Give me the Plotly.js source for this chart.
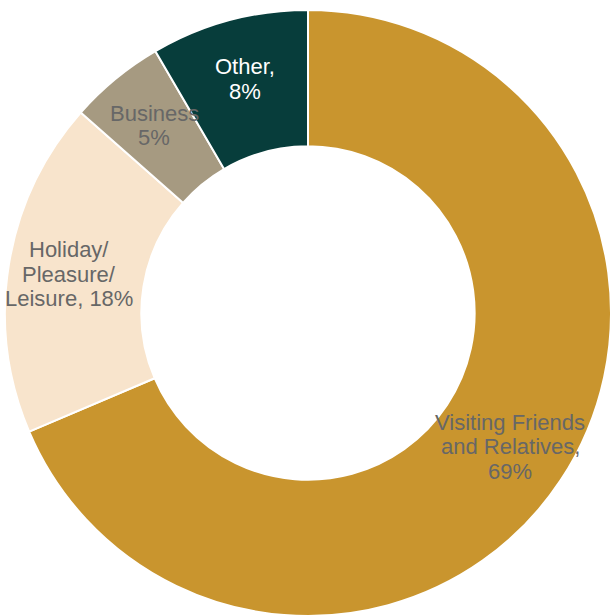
<!DOCTYPE html>
<html>
<head>
<meta charset="utf-8">
<script src="https://cdn.plot.ly/plotly-3.0.1.min.js"></script>
<style>html,body{margin:0;padding:0;background:#fff;}#chart{width:611px;height:616px;}</style>
</head>
<body>
<div id="chart"></div>
<script>
const categories = ["Visiting Friends and Relatives", "Holiday/Pleasure/Leisure", "Business", "Other"];
const values = [68.6, 17.9, 5.1, 8.4];
const labelTexts = ["Visiting Friends<br>and Relatives,<br>69%", "Holiday/<br>Pleasure/<br>Leisure, 18%", "Business<br>5%", "Other,<br>8%"];
const colors = ["#C9952E", "#F8E4CC", "#A69A81", "#073D3B"];
const textColors = ["#676767", "#676767", "#676767", "#FFFFFF"];

const W = 611, H = 616;
const margin = {l: 5, r: 0, t: 10, b: 0};
const hole = 0.55;
const fontSize = 22;
const lineGap = 24.5;

const trace = {
  type: "pie",
  labels: categories,
  values: values,
  textinfo: "none",
  textposition: "none",
  hole: hole,
  sort: false,
  direction: "clockwise",
  rotation: 0,
  marker: {colors: colors, line: {color: "#FFFFFF", width: 2}},
  showlegend: false,
  hoverinfo: "label+percent"
};

// label positions derived from slice mid-angles
const plotW = W - margin.l - margin.r, plotH = H - margin.t - margin.b;
const R = Math.min(plotW, plotH) / 2;
const total = values.reduce((a, b) => a + b, 0);
const annotations = [];
let cum = 0;
values.forEach((v, i) => {
  const mid = (cum + v / 2) / total * 2 * Math.PI;
  cum += v;
  const r = R * 0.8;
  const cx = 0.5 + r * Math.sin(mid) / plotW;
  const cy = 0.5 + r * Math.cos(mid) / plotH;
  const lines = labelTexts[i].split("<br>");
  const n = lines.length;
  lines.forEach((ln, k) => {
    annotations.push({
      xref: "paper", yref: "paper",
      x: cx, y: cy,
      yshift: ((n - 1) / 2 - k) * lineGap,
      xanchor: "center", yanchor: "middle",
      text: ln,
      showarrow: false,
      align: "center",
      font: {family: "Liberation Sans, Arial, sans-serif", size: fontSize, color: textColors[i]}
    });
  });
});

const layout = {
  width: W,
  height: H,
  margin: margin,
  paper_bgcolor: "#FFFFFF",
  showlegend: false,
  annotations: annotations
};

Plotly.newPlot("chart", [trace], layout, {displayModeBar: false, staticPlot: true});
</script>
</body>
</html>
